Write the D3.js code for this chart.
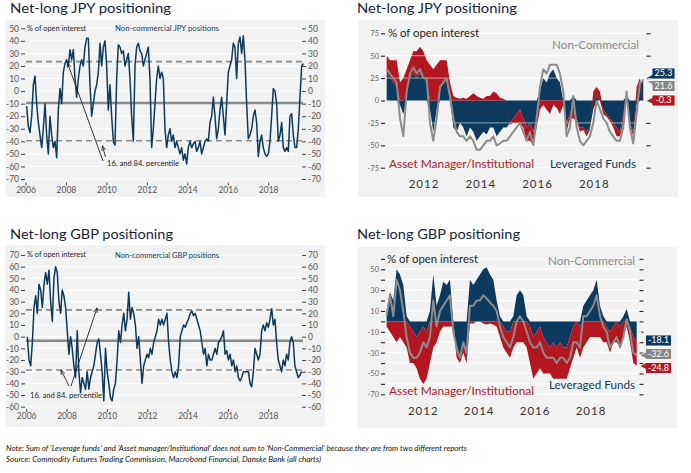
<!DOCTYPE html>
<html><head><meta charset="utf-8">
<script src="https://cdn.jsdelivr.net/npm/d3@7"></script>
<style>body{margin:0;background:#fff}svg{display:block}text{font-family:Lato,'Open Sans',sans-serif}</style>
</head><body><svg id="c" width="691" height="473"></svg>
<script>
// ---------------- DATA ----------------
// Non-commercial JPY positions, % of open interest (approx. every ~4 weeks, from early 2006)
const jpyNC = [-12,-28,-33,-20,5,12,-10,-25,-35,-45,-30,-10,-35,-50,-20,-35,-45,-40,-53,-15,2,-10,15,22,25,20,33,25,33,10,-5,10,20,25,20,35,42,42,5,-20,-10,0,5,15,38,20,35,40,20,-15,5,-20,-40,-43,10,37,35,30,32,20,25,30,10,-20,-40,20,35,38,32,30,20,25,30,35,10,-45,-30,-10,10,20,10,15,10,-30,-45,-35,-30,-40,-35,-45,-40,-45,-50,-45,-55,-50,-58,-45,-40,-45,-42,-40,-48,-45,-40,-50,-45,-40,-38,-40,-25,-20,-5,-20,-38,-30,-15,-5,-20,-35,-10,15,20,25,38,35,10,38,43,30,44,25,-10,-38,-35,-30,-20,-15,-25,-52,-40,-35,-45,-50,-52,-50,-40,-20,2,0,-10,-40,-35,-25,-45,-48,-45,-48,-20,-18,-35,-45,-45,-30,-5,20,22];
const jpyPct = [23.5, -39.5];   // 16th / 84th percentile
const jpyMean = -9.5;
// Non-commercial GBP positions
const gbpNC = [0,-20,-25,-5,25,35,20,45,40,25,45,55,45,57,30,13,50,60,55,30,20,40,35,25,5,-15,0,-10,-25,-35,5,-30,-48,-35,-40,-45,-30,-45,-35,-30,-25,-15,-5,-2,-15,-30,-55,-10,-30,-40,-52,-55,-45,-40,-20,5,-5,10,20,5,15,38,15,25,20,10,-10,0,-20,-40,-25,-20,-15,-18,-10,-15,-5,0,5,15,10,15,10,15,20,-5,-20,-30,-35,-30,-35,-25,0,5,10,8,12,15,20,22,18,20,15,10,5,-5,-15,-10,-25,-15,-20,-20,-15,-10,-15,-5,-3,0,5,-15,-12,-20,-15,-25,-20,-30,-25,-35,-38,-35,-30,-30,-30,-30,-40,-43,-30,-10,-15,-20,-15,5,10,5,12,8,15,24,10,15,-5,-20,-25,-30,-20,-25,-15,-20,-5,0,-5,-25,-30,-35,-33,-30];
const gbpPct = [23, -28.5];
const gbpMean = -3.5;
const ncStart = 2006.033, ncStep = 0.0824;

// JPY, TFF report (approx. every 6 weeks from autumn 2010)
const jpyLev = [30,25,20,15,-5,-15,10,25,30,25,30,25,20,-10,-35,-10,10,25,20,0,-30,-35,-25,-30,-40,-30,-35,-45,-40,-35,-38,-30,-30,-40,-35,-30,-30,-25,-20,-15,-10,-20,-30,-25,-35,-20,10,25,20,30,35,25,20,0,-25,-15,5,-20,-30,-30,-35,-30,-10,5,0,-10,-15,-20,-25,-30,-35,-15,5,-25,-35,-5,15,25.3];
const jpyAM = [20,20,25,30,20,25,25,20,25,30,30,30,25,40,35,40,35,20,25,20,5,3,2,3,2,5,8,5,3,2,5,5,10,8,3,2,0,-2,-5,-10,-15,-10,-15,-20,-15,-10,-10,-5,-10,-15,-5,-8,-15,-5,-10,-5,-20,-3,-5,-3,-5,-3,10,10,10,-5,-3,-3,-5,-10,-5,-10,3,-3,-5,15,10,-0.3];
const jpyNC2 = [35,30,25,20,-20,-40,10,30,37,30,35,25,25,-25,-45,-20,15,20,25,5,-20,-35,-40,-40,-45,-40,-45,-55,-55,-50,-45,-45,-40,-50,-48,-45,-45,-40,-35,-30,-25,-35,-45,-35,-50,-20,15,35,30,40,40,40,30,10,-40,-30,5,-30,-45,-50,-45,-40,-25,0,-10,-20,-25,-35,-40,-45,-45,-30,10,-30,-48,-15,20,21.6];
const jpyTffStart = 2010.685, jpyTffStep = 0.1174;

// GBP, TFF report
const gbpLev = [10,28,20,50,45,35,5,-5,-10,-15,-10,-5,-10,10,45,15,25,38,35,40,0,-30,-35,-20,-35,40,35,40,45,50,52,45,40,20,5,-5,-10,-10,5,25,30,25,5,-5,-15,-10,-5,-15,-20,-25,-20,-25,-20,-25,-25,-15,-5,0,-5,15,20,25,30,40,15,5,-5,-10,-5,0,-5,5,12,-5,-15,-18.1];
const gbpAM = [-5,-10,-15,-20,-15,-20,-25,-35,-30,-30,-45,-55,-45,-40,-25,-20,-10,-5,-5,-5,-5,-5,-5,-10,-5,-2,-2,0,0,-2,-3,-2,-3,-5,-15,-20,-20,-25,-25,-20,-20,-20,-25,-35,-40,-40,-40,-35,-30,-25,-35,-30,-35,-30,-30,-30,-30,-25,-30,-25,-20,-15,-15,-15,-15,-20,-15,-20,-15,-20,-20,-15,-5,-15,-25,-24.8];
const gbpNC2 = [5,25,5,40,30,10,-15,-30,-35,-35,-30,-20,-25,-15,20,-5,10,15,20,25,-10,-25,-35,-20,-30,15,15,20,20,25,22,18,15,10,-5,-15,-20,-25,-15,0,5,0,-10,-20,-25,-25,-20,-30,-35,-35,-35,-40,-35,-35,-40,-35,-20,-20,-25,5,5,10,15,25,5,-5,-10,-25,-20,-15,-25,-15,2,-10,-30,-32.6];
const gbpTffStart = 2010.687, gbpTffStep = 0.1193;

const yearTicksLeft = [2006,2008,2010,2012,2014,2016,2018];
const yearTicksRight = [2012,2014,2016,2018];

// ---------------- DRAW ----------------
const svg = d3.select('#c');
const NAVY='#0b3a5e', RED='#b3161f', GRAY='#8c8c8c', BG='#f2f2f2', TXT='#16243d', AX='#555';

svg.append('defs').append('marker').attr('id','ah').attr('viewBox','0 0 10 10')
  .attr('refX',9).attr('refY',5).attr('markerWidth',6).attr('markerHeight',6).attr('orient','auto')
  .append('path').attr('d','M0,1.5L10,5L0,8.5').attr('fill','none').attr('stroke','#222').attr('stroke-width',1.4);

function title(x,y,t,w){
  svg.append('text').attr('x',x).attr('y',y).attr('font-size',13.5).attr('fill',TXT)
    .attr('textLength',w).attr('lengthAdjust','spacingAndGlyphs').text(t);
}
function txt(g,x,y,t,o){
  const e=g.append('text').attr('x',x).attr('y',y).text(t);
  for(const k in o) e.attr(k,o[k]);
  return e;
}

function leftPanel(o){
  const g = svg.append('g');
  g.append('rect').attr('x',5).attr('y',o.bgY).attr('width',320).attr('height',o.bgH).attr('fill',BG);
  const x = d3.scaleLinear([2006,2018],[o.x0,o.x1]);
  const y = d3.scaleLinear([o.yMin,o.yMax],[o.yb,o.yt]);
  const ticks = d3.range(o.yMin,o.yMax+1,10);
  g.append('g').selectAll('line').data(ticks).join('line')
    .attr('x1',26).attr('x2',302).attr('y1',d=>y(d)).attr('y2',d=>y(d)).attr('stroke','#fff').attr('stroke-width',1);
  const fmt = d=>String(d);
  const la = g.append('g').attr('transform','translate(25,0)')
    .call(d3.axisLeft(y).tickValues(ticks).tickSize(4).tickPadding(2).tickFormat(fmt));
  const ra = g.append('g').attr('transform','translate(302,0)')
    .call(d3.axisRight(y).tickValues(ticks).tickSize(4).tickPadding(2).tickFormat(fmt));
  [la,ra].forEach(a=>{a.select('.domain').remove();
    a.selectAll('line').attr('stroke','#444');
    a.selectAll('text').attr('font-size',8.5).attr('fill',AX).attr('font-family','Lato, sans-serif');});
  // x ticks
  g.append('g').selectAll('line').data(yearTicksLeft).join('line')
    .attr('x1',d=>x(d)).attr('x2',d=>x(d)).attr('y1',o.xTickY).attr('y2',o.xTickY+3).attr('stroke','#444');
  g.append('g').selectAll('text').data(yearTicksLeft).join('text')
    .attr('x',d=>x(d)).attr('y',o.xLabY).attr('text-anchor','middle').attr('font-size',8.5).attr('fill',AX).text(d=>d);
  // percentile & mean lines
  g.append('g').selectAll('line').data(o.pct).join('line')
    .attr('x1',26).attr('x2',303).attr('y1',d=>y(d)).attr('y2',d=>y(d))
    .attr('stroke','#8a8a8a').attr('stroke-width',1.6).attr('stroke-dasharray','6,4');
  g.append('line').attr('x1',26).attr('x2',303).attr('y1',y(o.mean)).attr('y2',y(o.mean))
    .attr('stroke','#8a8a8a').attr('stroke-width',2.6);
  // series
  const pts = o.vals.map((v,i)=>[ncStart+i*ncStep, v]);
  g.append('path').datum(pts).attr('fill','none').attr('stroke',NAVY).attr('stroke-width',1.5)
    .attr('stroke-linejoin','round')
    .attr('d',d3.line().x(d=>x(d[0])).y(d=>y(d[1])));
  txt(g,27,o.labY,'% of open interest',{'font-size':8,fill:'#222',textLength:59,lengthAdjust:'spacingAndGlyphs'});
  txt(g,115,o.labY+0.5,o.seriesName,{'font-size':8,fill:NAVY,textLength:104,lengthAdjust:'spacingAndGlyphs'});
  // annotation
  txt(g,o.ann.tx,o.ann.ty,'16. and 84. percentile',{'font-size':8,fill:'#222',textLength:72,lengthAdjust:'spacingAndGlyphs'});
  o.ann.arrows.forEach(a=>g.append('line').attr('x1',a[0]).attr('y1',a[1]).attr('x2',a[2]).attr('y2',a[3])
    .attr('stroke','#222').attr('stroke-width',0.9).attr('marker-end','url(#ah)'));
}

function rightPanel(o){
  const g = svg.append('g');
  g.append('rect').attr('x',o.bgX).attr('y',o.bgY).attr('width',320).attr('height',o.bgH).attr('fill',BG);
  const x = d3.scaleLinear([2012,2018],o.xr);
  const y = d3.scaleLinear([o.yMin,o.yMax],[o.yb,o.yt]);
  const rows = o.lev.map((v,i)=>({t:o.start+i*o.step, lev:v, am:o.am[i], nc:o.nc[i]}));
  const stack = d3.stack().keys(['lev','am']).offset(d3.stackOffsetDiverging)(rows);
  const area = d3.area().x(d=>x(d.data.t)).y0(d=>y(d[0])).y1(d=>y(d[1]));
  const colors = {lev:NAVY, am:RED};
  g.append('g').selectAll('line').data(o.grid).join('line')
    .attr('x1',o.gx0).attr('x2',o.gx1).attr('y1',d=>y(d)).attr('y2',d=>y(d))
    .attr('stroke','#fff').attr('stroke-width',1.2);
  g.append('g').selectAll('path').data(stack).join('path').attr('fill',d=>colors[d.key]).attr('d',area);
  if (o.gridOp > 0) g.append('g').selectAll('line').data(o.grid).join('line')
    .attr('x1',o.gx0).attr('x2',o.gx1).attr('y1',d=>y(d)).attr('y2',d=>y(d))
    .attr('stroke','#fff').attr('stroke-width',0.8).attr('opacity',o.gridOp);
  g.append('path').datum(rows).attr('fill','none').attr('stroke',GRAY).attr('stroke-width',2)
    .attr('stroke-linejoin','round').attr('d',d3.line().x(d=>x(d.t)).y(d=>y(d.nc)));
  const la = g.append('g').attr('transform',`translate(${o.lt},0)`)
    .call(d3.axisLeft(y).tickValues(o.ticks).tickSize(4).tickPadding(2)
      .tickFormat(d=>o.labeled.includes(d)?String(d):''));
  const ra = g.append('g').attr('transform',`translate(${o.rt},0)`)
    .call(d3.axisRight(y).tickValues(o.ticks).tickSize(4).tickFormat(''));
  [la,ra].forEach(a=>{a.select('.domain').remove();
    a.selectAll('line').attr('stroke','#222').attr('stroke-width',1.1);
    a.selectAll('text').attr('font-size',7.5).attr('fill','#666').attr('font-family','Lato, sans-serif');});
  g.append('g').selectAll('text').data(yearTicksRight).join('text')
    .attr('x',d=>x(d)).attr('y',o.xLabY).attr('text-anchor','middle').attr('font-size',11.5)
    .attr('letter-spacing',1).attr('fill','#333').text(d=>d);
  const L = o.labels;
  txt(g,L.pct[0],L.pct[1],'% of open interest',{'font-size':10.5,fill:'#222',textLength:91,lengthAdjust:'spacingAndGlyphs'});
  txt(g,L.nc[0],L.nc[1],'Non-Commercial',{'font-size':10.5,fill:'#8a8a8a',textLength:87,lengthAdjust:'spacingAndGlyphs'});
  txt(g,L.am[0],L.am[1],'Asset Manager/Institutional',{'font-size':10.5,fill:RED,textLength:145,lengthAdjust:'spacingAndGlyphs'});
  txt(g,L.lev[0],L.lev[1],'Leveraged Funds',{'font-size':10.5,fill:NAVY,textLength:86,lengthAdjust:'spacingAndGlyphs'});
  // end-value boxes
  const last = rows[rows.length-1];
  const bw = o.bw, bh = 11;
  const ends = [
    {v:last.lev, c:NAVY, by:o.boxY[0], tip:y(stack[0][rows.length-1][1])},
    {v:last.nc, c:'#858585', by:o.boxY[1], tip:y(last.nc)},
    {v:last.am, c:RED, by:o.boxY[2], tip:y(stack[1][rows.length-1][ last.am<0 ? 0 : 1 ])}
  ];
  ends.forEach(e=>{
    const bx=o.bx, tx=bx-6;
    const ty = Math.max(e.by-3, Math.min(e.by+bh+3, e.tip));
    const p = `M${bx},${e.by}H${bx+bw}V${e.by+bh}H${bx}V${Math.min(e.by+bh, ty+3)}L${tx},${ty}L${bx},${Math.max(e.by, ty-3)}Z`;
    g.append('path').attr('d',p).attr('fill',e.c).attr('stroke','#fff').attr('stroke-width',0.8);
    txt(g,bx+bw/2,e.by+8.3,d3.format('.1f')(e.v).replace('−','-'),{'font-size':9,fill:'#fff','text-anchor':'middle'});
  });
}

title(10,13,'Net-long JPY positioning',161);
title(357,13,'Net-long JPY positioning',160);
title(10,239,'Net-long GBP positioning',163);
title(357,239,'Net-long GBP positioning',163);

leftPanel({bgY:20,bgH:177,x0:26,x1:268.7,yMin:-70,yMax:50,yb:179,yt:28.3,
  xTickY:182.5,xLabY:193,vals:jpyNC,pct:jpyPct,mean:jpyMean,labY:30.7,
  seriesName:'Non-commercial JPY positions',
  ann:{tx:107,ty:166,arrows:[[103,161,67.5,63],[105.5,157,102.5,146]]}});
leftPanel({bgY:245,bgH:182,x0:26.7,x1:268.7,yMin:-60,yMax:70,yb:406.7,yt:255,
  xTickY:409,xLabY:419,vals:gbpNC,pct:gbpPct,mean:gbpMean,labY:257,
  seriesName:'Non-commercial GBP positions',
  ann:{tx:30,ty:398,arrows:[[71,386,97,308],[69,386,61,370]]}});

rightPanel({bgX:358,bgY:20,bgH:177,xr:[424,594.3],yMin:-75,yMax:75,yb:167.7,yt:33.3,
  lev:jpyLev,am:jpyAM,nc:jpyNC2,start:jpyTffStart,step:jpyTffStep,
  grid:[75,50,25,-25,-50,-75],gx0:386,gx1:646,gridOp:0.7,
  ticks:[75,50,25,0,-25,-50,-75],labeled:[75,50,25,0,-25,-50,-75],lt:385,rt:646.5,xLabY:188,
  labels:{pct:[388,36.7],nc:[552,49.3],am:[389,168.3],lev:[550,168.3]},
  bx:652,bw:23,boxY:[68,80.5,95]});
rightPanel({bgX:357,bgY:247,bgH:181,xr:[423.3,591],yMin:-70,yMax:50,yb:394.3,yt:269.3,
  lev:gbpLev,am:gbpAM,nc:gbpNC2,start:gbpTffStart,step:gbpTffStep,
  grid:d3.range(-70,61,10).filter(d=>d!==0),gx0:386,gx1:640,gridOp:0,
  ticks:d3.range(-70,61,10),labeled:[50,30,10,-10,-30,-50,-70],lt:385,rt:639.5,xLabY:415,
  labels:{pct:[387,262.7],nc:[548,265],am:[389,395],lev:[549,389]},
  bx:645.5,bw:26,boxY:[335,348.5,362.5]});

// footer
svg.append('text').attr('x',6).attr('y',450.5).attr('font-size',8).attr('font-style','italic').attr('fill','#111')
  .attr('textLength',461).attr('lengthAdjust','spacingAndGlyphs')
  .text("Note: Sum of 'Leverage funds' and 'Asset manager/Institutional' does not sum to 'Non-Commercial' because they are from two different reports");
svg.append('text').attr('x',6).attr('y',461.5).attr('font-size',8).attr('font-style','italic').attr('fill','#111')
  .attr('textLength',315).attr('lengthAdjust','spacingAndGlyphs')
  .text("Source: Commodity Futures Trading Commission, Macrobond Financial, Danske Bank (all charts)");
</script></body></html>
